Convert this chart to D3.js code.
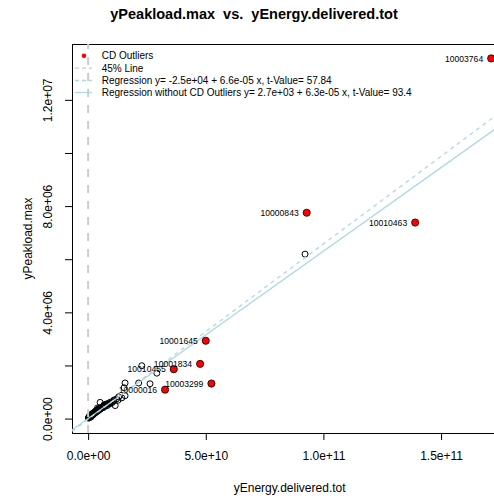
<!DOCTYPE html>
<html><head><meta charset="utf-8">
<script src="https://cdn.jsdelivr.net/npm/d3@7/dist/d3.min.js"></script>
<style>body{margin:0;background:#fff}text{font-family:"Liberation Sans",Arial,sans-serif;white-space:pre}</style>
</head><body>
<svg id="c" width="494" height="496"></svg>
<script>
// ---- data ----
const titleText = "yPeakload.max  vs.  yEnergy.delivered.tot";
const xLabel = "yEnergy.delivered.tot";
const yLabel = "yPeakload.max";
const xTicks = [0, 5e10, 1e11, 1.5e11];
const xTickLabels = ["0.0e+00", "5.0e+10", "1.0e+11", "1.5e+11"];
const yTicks = [0, 2e6, 4e6, 6e6, 8e6, 10e6, 12e6];
const yTickLabels = ["0.0e+00", "", "4.0e+06", "", "8.0e+06", "", "1.2e+07"];

const outlierIds = ["10003764", "10000843", "10010463", "10001645", "10001834", "10010455", "10003299", "10000016"];
const outlierX = [171.3e9, 92.9e9, 139.0e9, 50.0e9, 47.6e9, 36.4e9, 52.4e9, 32.7e9];
const outlierY = [13.56e6, 7.75e6, 7.38e6, 2.93e6, 2.06e6, 1.86e6, 1.32e6, 1.09e6];

const otherX = [92.2e9, 22.8e9, 29.2e9, 15.7e9, 21.5e9, 26.3e9, 15.3e9, 14.3e9, 12.7e9, 10.8e9, 11.5e9, 7.9e9, 5.1e9, 15.7e9, 9.3e9,
  0.1e9, 0.3e9, 0.5e9, 0.6e9, 0.8e9, 1.0e9, 1.2e9, 1.3e9, 1.5e9, 1.7e9, 1.9e9, 2.0e9, 2.2e9, 2.4e9, 2.6e9, 2.8e9, 3.0e9, 3.1e9, 3.3e9,
  3.5e9, 3.7e9, 3.9e9, 4.1e9, 4.3e9, 4.5e9, 4.7e9, 4.9e9, 5.1e9, 5.4e9, 5.7e9, 6.0e9, 6.3e9, 6.6e9, 7.0e9, 7.4e9, 7.8e9, 8.3e9, 8.8e9, 9.5e9,
  10.2e9, 11.0e9, 12.1e9, 13.0e9, 6.8e9, 4.0e9];
const otherY = [6.19e6, 1.99e6, 1.71e6, 1.34e6, 1.34e6, 1.31e6, 1.16e6, 0.78e6, 0.69e6, 0.65e6, 0.49e6, 0.53e6, 0.61e6, 0.86e6, 0.56e6,
  0.02e6, 0.05e6, 0.03e6, 0.10e6, 0.08e6, 0.12e6, 0.06e6, 0.15e6, 0.11e6, 0.18e6, 0.13e6, 0.20e6, 0.16e6, 0.22e6, 0.19e6, 0.25e6, 0.21e6, 0.28e6, 0.24e6,
  0.30e6, 0.26e6, 0.33e6, 0.29e6, 0.35e6, 0.31e6, 0.38e6, 0.34e6, 0.40e6, 0.37e6, 0.43e6, 0.40e6, 0.46e6, 0.42e6, 0.50e6, 0.47e6, 0.55e6, 0.50e6, 0.58e6, 0.62e6,
  0.60e6, 0.70e6, 0.74e6, 0.82e6, 0.52e6, 0.40e6];

const regNames = ["Regression", "Regression without CD Outliers"];
const regIntercept = [-2.5e4, 2.7e3];
const regSlope = [6.6e-5, 6.3e-5];
const regT = [57.84, 93.4];

// ---- layout ----
const svg = d3.select("#c");
const L = 72, T = 44, B = 433;
const xMin = 0, xMax = 171.3e9, yMin = 0, yMax = 13.56e6;
const xs = d3.scaleLinear().domain([xMin - 0.04 * (xMax - xMin), xMax + 0.04 * (xMax - xMin)]).range([L, 507.3]);
const ys = d3.scaleLinear().domain([yMin - 0.04 * (yMax - yMin), yMax + 0.04 * (yMax - yMin)]).range([B, T]);
const R = xs.range()[1];

svg.append("clipPath").attr("id", "clip").append("rect")
  .attr("x", L).attr("y", T).attr("width", R - L).attr("height", B - T);

// title
svg.append("text").attr("x", 254).attr("y", 19).attr("text-anchor", "middle")
  .attr("font-weight", "bold").attr("font-size", 14.5).attr("xml:space", "preserve").text(titleText);

// axes
const xAxis = d3.axisBottom(xs).tickValues(xTicks).tickFormat((d, i) => xTickLabels[i]).tickSize(7).tickPadding(11);
const gx = svg.append("g").attr("transform", `translate(0,${B})`).call(xAxis);
gx.select(".domain").attr("d", `M${xs(xTicks[0])},0.5H${xs(xTicks[xTicks.length - 1])}`);
gx.selectAll("text").attr("font-size", 12).attr("font-family", "Liberation Sans, Arial, sans-serif").attr("fill", "#000");

const yAxis = d3.axisLeft(ys).tickValues(yTicks).tickFormat((d, i) => yTickLabels[i]).tickSize(7).tickPadding(0);
const gy = svg.append("g").attr("transform", `translate(${L},0)`).call(yAxis);
gy.select(".domain").remove();
gy.selectAll("text").attr("font-size", 12).attr("font-family", "Liberation Sans, Arial, sans-serif").attr("fill", "#000")
  .attr("text-anchor", "middle").attr("dy", 0)
  .attr("transform", `translate(-20,0) rotate(-90)`).attr("x", 0).attr("y", 0);

svg.append("text").attr("x", (L + R) / 2).attr("y", 492).attr("text-anchor", "middle").attr("font-size", 12).text(xLabel);
svg.append("text").attr("transform", `translate(32,${(T + B) / 2}) rotate(-90)`).attr("text-anchor", "middle")
  .attr("font-size", 12).text(yLabel);

// plot box
svg.append("rect").attr("x", L + 0.5).attr("y", T + 0.5).attr("width", R - L).attr("height", B - T)
  .attr("fill", "none").attr("stroke", "#000").attr("stroke-width", 1);

const plot = svg.append("g").attr("clip-path", "url(#clip)");

// ordinary points
plot.selectAll("circle.o").data(otherX.map((x, i) => [x, otherY[i]])).enter().append("circle")
  .attr("cx", d => xs(d[0])).attr("cy", d => ys(d[1])).attr("r", 3)
  .attr("fill", "none").attr("stroke", "#000").attr("stroke-width", 1);

// 45 line
const yd = ys.domain();
plot.append("line").attr("x1", xs(yd[0])).attr("y1", ys(yd[0])).attr("x2", xs(yd[1])).attr("y2", ys(yd[1]))
  .attr("stroke", "#cccccc").attr("stroke-width", 2).attr("stroke-dasharray", "8,8");

// regression lines
const xd = xs.domain();
regSlope.forEach((b, i) => {
  plot.append("line")
    .attr("x1", xs(xd[0])).attr("y1", ys(regIntercept[i] + b * xd[0]))
    .attr("x2", xs(xd[1])).attr("y2", ys(regIntercept[i] + b * xd[1]))
    .attr("stroke", "#ADD8E6").attr("stroke-width", 1.3)
    .attr("stroke-dasharray", i === 0 ? "4,4" : null);
});

// outliers
plot.selectAll("circle.r").data(outlierX.map((x, i) => [x, outlierY[i]])).enter().append("circle")
  .attr("cx", d => xs(d[0])).attr("cy", d => ys(d[1])).attr("r", 3.6)
  .attr("fill", "#ff0000").attr("stroke", "#000").attr("stroke-width", 0.8);
svg.selectAll("text.lab").data(outlierIds).enter().append("text")
  .attr("x", (d, i) => xs(outlierX[i]) - 8).attr("y", (d, i) => ys(outlierY[i]) + 3.1)
  .attr("text-anchor", "end").attr("font-size", 8.6).text(d => d);

// legend
const fmt = v => v.toExponential(1).replace(/e([+-])(\d)$/, "e$10$2");
const legendLabels = ["CD Outliers", "45% Line",
  `${regNames[0]} y= ${fmt(regIntercept[0])} + ${fmt(regSlope[0])} x, t-Value= ${regT[0]}`,
  `${regNames[1]} y= ${fmt(regIntercept[1])} + ${fmt(regSlope[1])} x, t-Value= ${regT[1]}`];
const legY = [55.7, 68.2, 80.5, 92.5];
const lg = svg.append("g");
lg.append("circle").attr("cx", 84).attr("cy", legY[0]).attr("r", 2.3).attr("fill", "#ff0000");
lg.append("line").attr("x1", 75).attr("x2", 92).attr("y1", legY[1]).attr("y2", legY[1])
  .attr("stroke", "#cccccc").attr("stroke-width", 1.3).attr("stroke-dasharray", "4,3");
lg.append("line").attr("x1", 75).attr("x2", 92).attr("y1", legY[2]).attr("y2", legY[2])
  .attr("stroke", "#ADD8E6").attr("stroke-width", 1.3).attr("stroke-dasharray", "4,3");
lg.append("line").attr("x1", 75).attr("x2", 92).attr("y1", legY[3]).attr("y2", legY[3])
  .attr("stroke", "#ADD8E6").attr("stroke-width", 1.3);
lg.selectAll("text").data(legendLabels).enter().append("text")
  .attr("x", 101.7).attr("y", (d, i) => legY[i] + 3.6).attr("font-size", 10).text(d => d);
</script>
</body></html>
